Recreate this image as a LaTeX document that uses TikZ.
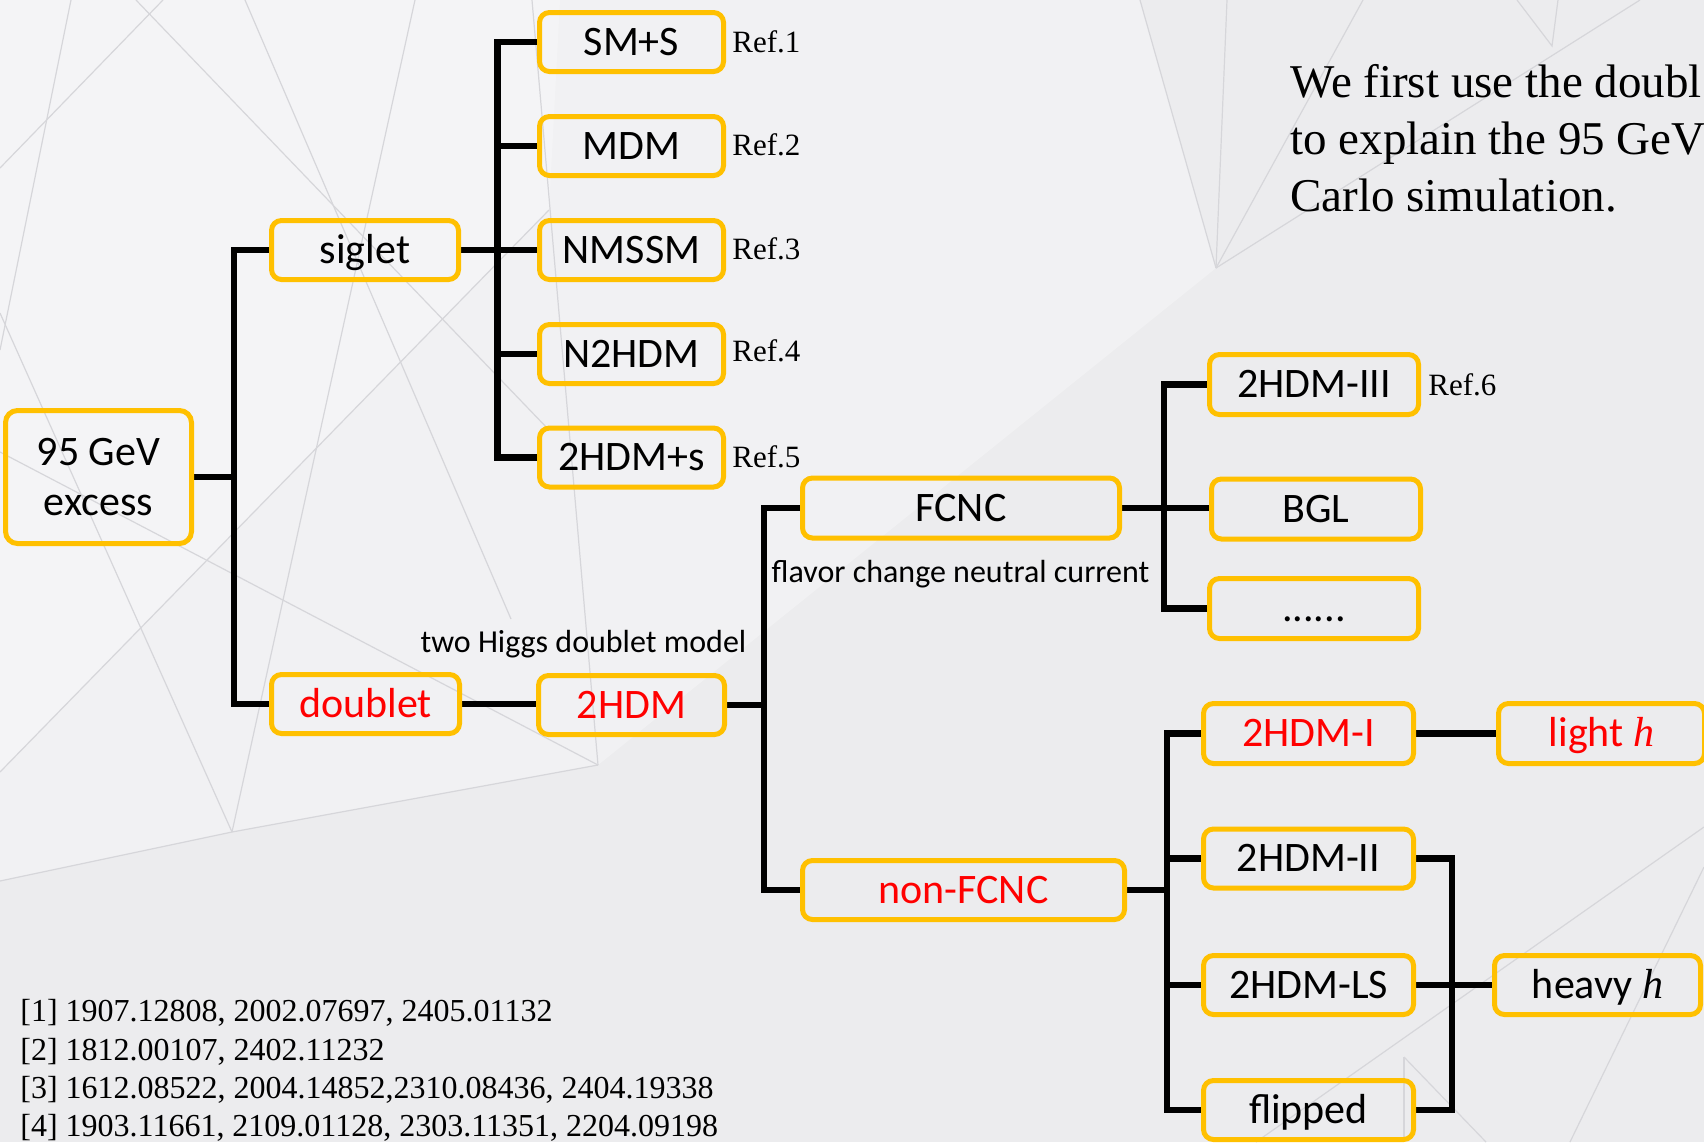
\documentclass[tikz,border=0pt]{standalone}
\usepackage{fontspec}
\setmainfont{Carlito}
\newfontfamily\timesf{Liberation Serif}
\definecolor{bgc}{RGB}{236,236,238}
\definecolor{gold}{RGB}{255,192,0}
\definecolor{redt}{RGB}{255,0,0}
\definecolor{bgline}{RGB}{214,214,218}
\pgfdeclarelayer{back}
\pgfdeclarelayer{conns}
\pgfsetlayers{back,conns,main}
\begin{document}
\begin{tikzpicture}[x=0.5pt,y=-0.5pt,
  box/.style={draw=gold, line width=2.5pt, rounded corners=5pt, inner sep=0pt,
    font=\fontsize{21}{25}\selectfont, text height=13.3pt, text depth=0pt,
    minimum height=29.5pt},
  bigbox/.style={draw=gold, line width=2.5pt, rounded corners=6pt, inner sep=0pt,
    font=\fontsize{21}{25}\selectfont, align=center},
  conn/.style={line width=3.2pt, black},
  bgl/.style={draw=bgline, line width=0.6pt},
  reflab/.style={font=\timesf\fontsize{15.5}{18}\selectfont, anchor=base west, inner sep=0pt},
  note/.style={font=\fontsize{16}{19}\selectfont, anchor=base, inner sep=0pt},
  big/.style={font=\timesf\fontsize{23.5}{28}\selectfont, anchor=base west, inner sep=0pt},
  refline/.style={font=\timesf\fontsize{16}{19}\selectfont, anchor=base west, inner sep=0pt},
  red/.style={text=redt}]

\useasboundingbox (0,0) rectangle (1704,1142);

% ---------- background ----------
\begin{pgfonlayer}{back}
\fill[bgc] (0,0) rectangle (1704,1142);
\fill[white, opacity=0.3] (0,0) -- (1140,0) -- (1216,268) -- (598,765) -- (232,832) -- (0,881) -- cycle;
\fill[white, opacity=0.25] (0,0) -- (560,0) -- (549,210) -- (0,772) -- cycle;
\begin{scope}
\clip (0,0) rectangle (1704,1142);
\draw[bgl] (163,0) -- (0,168);
\draw[bgl] (71,0) -- (0,350);
\draw[bgl] (136,0) -- (549,430);
\draw[bgl] (245,0) -- (511,619);
\draw[bgl] (415,0) -- (232,832);
\draw[bgl] (0,313) -- (232,832);
\draw[bgl] (0,772) -- (549,210);
\draw[bgl] (0,452) -- (598,765);
\draw[bgl] (0,881) -- (232,832) -- (598,765);
\draw[bgl] (598,765) -- (532,0);
\draw[bgl] (1140,0) -- (1216,268);
\draw[bgl] (1227,0) -- (1216,268);
\draw[bgl] (1363,0) -- (1216,268);
\draw[bgl] (1216,268) -- (1640,0);
\draw[bgl] (1517,0) -- (1552,46) -- (1558,0);
\draw[bgl] (1256,1142) -- (1704,827);
\draw[bgl] (1404,1057) -- (1404,1142);
\draw[bgl] (1404,1057) -- (1486,1142);
\draw[bgl] (1704,867) -- (1570,1142);
\end{scope}
\end{pgfonlayer}

% ---------- nodes ----------
\begin{scope}
\clip (0,0) rectangle (1704,1142);
\node[bigbox, minimum width=93pt, minimum height=66.5pt] (excess) at (98.5,477) {95 GeV\\excess};

\node[box, minimum width=93.5pt] (siglet) at (365,250) {siglet};
\node[box, minimum width=94pt, red] (doublet) at (365.5,704) {doublet};

\node[box, minimum width=92pt] (sms) at (631.5,42) {SM+S};
\node[box, minimum width=92pt] (mdm) at (631.5,146) {MDM};
\node[box, minimum width=92pt] (nmssm) at (631.5,250) {NMSSM};
\node[box, minimum width=92pt] (n2hdm) at (631.5,354) {N2HDM};
\node[box, minimum width=92pt] (hdms) at (631.5,457.5) {2HDM+s};
\node[box, minimum width=93pt, red] (thdm) at (631.5,705) {2HDM};

\node[reflab] (r1) at (732,52) {Ref.1};
\node[reflab] (r2) at (732,155) {Ref.2};
\node[reflab] (r3) at (732,259) {Ref.3};
\node[reflab] (r4) at (732,361) {Ref.4};
\node[reflab] (r5) at (732,467) {Ref.5};

\node[note] (thdmnote) at (583.5,652) {two Higgs doublet model};

\node[box, minimum width=158.5pt, minimum height=30pt] (fcnc) at (961,508) {FCNC};
\node[note] (fcncnote) at (960.5,582) {flavor change neutral current};
\node[box, minimum width=161pt] (nonfcnc) at (963.5,890) {\textcolor{redt}{non-FCNC}};

\node[box, minimum width=104.5pt, minimum height=30pt] (thdm3) at (1314,384.5) {2HDM-III};
\node[reflab] (r6) at (1428,395) {Ref.6};
\node[box, minimum width=104.5pt, minimum height=30pt] (bgl) at (1316,509) {BGL};
\node[box, minimum width=104.5pt, minimum height=30pt] (dots) at (1314,608.5) {......};

\node[box, minimum width=105pt, minimum height=30pt, red] (thdm1) at (1308.5,733.5) {2HDM-I};
\node[box, minimum width=105pt] (thdm2) at (1308.5,858.5) {2HDM-II};
\node[box, minimum width=105pt] (ls) at (1308.5,985) {2HDM-LS};
\node[box, minimum width=105pt] (flipped) at (1308.5,1110) {flipped};

\node[box, minimum width=103pt, minimum height=30pt, red] (lighth) at (1601.5,733.5) {light {\timesf\itshape h}};
\node[box, minimum width=103pt] (heavyh) at (1597.5,985) {heavy {\timesf\itshape h}};

\node[big] (t1) at (1290,97) {We first use the doubl};
\node[big] (t2) at (1290,154) {to explain the 95 GeV};
\node[big] (t3) at (1290,211) {Carlo simulation.};

\node[refline] (b1) at (20,1021) {[1] 1907.12808, 2002.07697, 2405.01132};
\node[refline] (b2) at (20,1060) {[2] 1812.00107, 2402.11232};
\node[refline] (b3) at (20,1098) {[3] 1612.08522, 2004.14852,2310.08436, 2404.19338};
\node[refline] (b4) at (20,1136) {[4] 1903.11661, 2109.01128, 2303.11351, 2204.09198};
\end{scope}

% ---------- connectors ----------
\begin{pgfonlayer}{conns}
\coordinate (j1) at (234,479);
\draw[conn] (excess.east) -- (excess.east -| j1);
\draw[conn] (siglet.west) -| (j1) |- (doublet.west);

\coordinate (j2) at (497.5,250);
\draw[conn] (sms.west) -| (j2) |- (hdms.west);
\draw[conn] (siglet.east) -- (nmssm.west);
\draw[conn] (mdm.west) -- (mdm.west -| j2);
\draw[conn] (n2hdm.west) -- (n2hdm.west -| j2);

\draw[conn] (doublet.east) -- (doublet.east -| thdm.west);

\coordinate (j3) at (764,705);
\draw[conn] (thdm.east) -- (j3);
\draw[conn] (fcnc.west) -| (j3) |- (nonfcnc.west);

\coordinate (j4) at (1164,508);
\draw[conn] (fcnc.east) -- (fcnc.east -| bgl.west);
\draw[conn] (thdm3.west) -| (j4) |- (dots.west);

\coordinate (j5) at (1167,890);
\draw[conn] (nonfcnc.east) -- (j5);
\draw[conn] (thdm1.west) -| (j5) |- (flipped.west);
\draw[conn] (thdm2.west) -- (thdm2.west -| j5);
\draw[conn] (ls.west) -- (ls.west -| j5);

\draw[conn] (thdm1.east) -- (lighth.west);
\coordinate (j6) at (1452,985);
\draw[conn] (thdm2.east) -| (j6) |- (flipped.east);
\draw[conn] (ls.east) -- (heavyh.west);
\end{pgfonlayer}
\end{tikzpicture}
\end{document}
